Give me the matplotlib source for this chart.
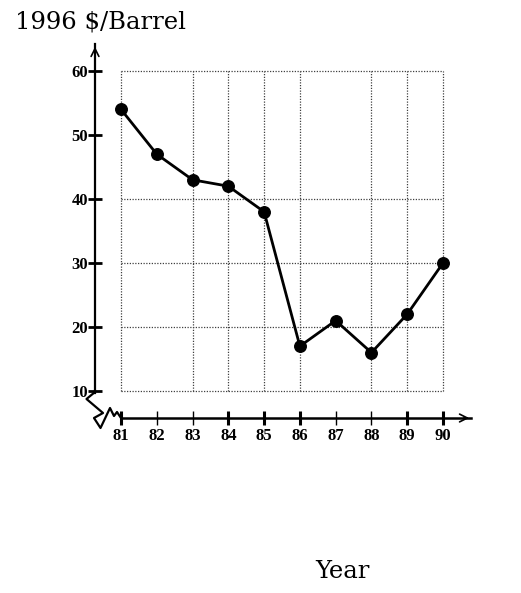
import matplotlib
matplotlib.use('Agg')
import matplotlib.pyplot as plt
import numpy as np

years = [81, 82, 83, 84, 85, 86, 87, 88, 89, 90]
price = [54, 47, 43, 42, 38, 17, 21, 16, 22, 30]
yticks = [10, 20, 30, 40, 50, 60]
grid_x = [81, 83, 84, 85, 86, 88, 89, 90]
grid_y = [10, 20, 30, 40, 60]
bold_x = [81, 84, 85, 86, 89, 90]

W, H = 521, 593
fig = plt.figure(figsize=(W / 100, H / 100), dpi=100)
# axes box = the dotted grid rectangle
ax = fig.add_axes([121 / W, (H - 391) / H, (443 - 121) / W, (391 - 71) / H])
ax.set_xlim(81, 90)
ax.set_ylim(10, 60)
ax.patch.set_visible(False)

px = 9 / (443 - 121)   # data per pixel, x
py = 50 / (391 - 71)   # data per pixel, y
yaxis_x = 81 - 26 * px
xaxis_y = 10 - 27 * py

for g in grid_x:
    ax.plot([g, g], [10, 60], ls=(0, (1, 1.2)), color='0.25', lw=0.9, clip_on=False)
for g in grid_y:
    ax.plot([81, 90], [g, g], ls=(0, (1, 1.2)), color='0.25', lw=0.9, clip_on=False)

ax.plot(years, price, '-o', color='black', lw=2.0, ms=8.3, zorder=5, clip_on=False)

for s in ['top', 'right']:
    ax.spines[s].set_visible(False)
ax.spines['left'].set_position(('data', yaxis_x))
ax.spines['bottom'].set_position(('data', xaxis_y))
ax.spines['left'].set_bounds(9.7, 64.2)
ax.spines['bottom'].set_bounds(81, 81 + 350 * px)
ax.spines['left'].set_linewidth(1.6)
ax.spines['bottom'].set_linewidth(1.8)

ax.set_xticks(years)
ax.set_yticks(yticks)
ax.tick_params(axis='both', direction='inout', length=10, width=1.0, colors='black')
ax.tick_params(axis='y', pad=0)
ax.tick_params(axis='x', pad=2)
for t, v in zip(ax.yaxis.get_major_ticks(), yticks):
    t.tick1line.set_markeredgewidth(2)
for t, v in zip(ax.xaxis.get_major_ticks(), years):
    t.tick1line.set_markeredgewidth(2.2 if v in bold_x else 1.0)
for lab in ax.get_xticklabels() + ax.get_yticklabels():
    lab.set_fontfamily('Liberation Serif')
    lab.set_fontweight('bold')
    lab.set_fontsize(12)

# arrow heads
ax.annotate('', xy=(yaxis_x, 60 + 27 * py), xytext=(yaxis_x, 60 + 15 * py),
            arrowprops=dict(arrowstyle='->', lw=1.2, color='black', mutation_scale=14),
            annotation_clip=False)
ax.annotate('', xy=(81 + 351 * px, xaxis_y), xytext=(81 + 340 * px, xaxis_y),
            arrowprops=dict(arrowstyle='->', lw=1.2, color='black', mutation_scale=14),
            annotation_clip=False)

# axis break zigzag
zx = [95, 95, 86.5, 103, 94, 100.5, 110, 114, 117, 121]
zy = [391, 392, 399, 413, 418, 428, 408, 416, 412, 418]
ax.plot([81 + (x - 121) * px for x in zx], [10 - (y - 391) * py for y in zy],
        color='black', lw=1.6, clip_on=False)

fig.text(15 / W, 1 - 29 / H, '1996 $/Barrel', fontfamily='DejaVu Serif',
         fontsize=17.5, ha='left', va='baseline')
fig.text(342 / W, 1 - 578 / H, 'Year', fontfamily='DejaVu Serif',
         fontsize=17.5, ha='center', va='baseline')

fig.savefig('out.png', dpi=100)
